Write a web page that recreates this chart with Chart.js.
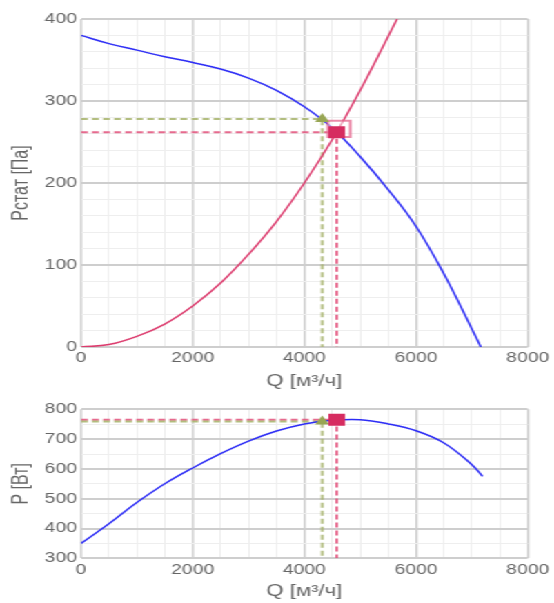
<!DOCTYPE html>
<html>
<head>
<meta charset="utf-8">
<title>Fan curve</title>
<script src="https://cdn.jsdelivr.net/npm/chart.js@4"></script>
<style>
  body { margin: 0; background: #fff; }
  /* chart drawn narrow and stretched sideways, like the original picture */
  #wrap { width: 401px; transform: scaleX(1.38); transform-origin: 0 0; }
  canvas { display: block; }
</style>
</head>
<body>
<div id="wrap">
  <canvas id="pressure-chart" width="401" height="396"></canvas>
  <canvas id="power-chart" width="401" height="207"></canvas>
</div>
<script>
    // Fan static pressure curve, Q [m3/h] -> Pa
    const fanQ = [0, 500, 1000, 1500, 2000, 2500, 3000, 3500, 4000, 4500, 5000, 5500, 6000, 6500, 7000, 7160];
    const fanPressure = [380, 370, 362, 354, 347, 339, 328, 313, 293, 267, 232, 192, 147, 89, 22, 0];

    // Network (system) curve
    const netQ = [0, 500, 1000, 1500, 2000, 2500, 3000, 3500, 4000, 4500, 5000, 5660];
    const netPressure = [0, 3, 13, 28, 50, 78, 113, 153, 200, 253, 313, 400];

    // Fan power curve, W
    const powerQ = [0, 500, 1000, 1500, 2000, 2500, 3000, 3500, 4000, 4500, 5000, 5500, 6000, 6500, 7000, 7190];
    const fanPower = [350, 416, 487, 550, 603, 651, 693, 727, 751, 763, 765, 751, 728, 687, 614, 575];

    // Markers: [required point, working point]
    const markerQ = [4320, 4580];
    const markerPressure = [278, 262];
    const markerPower = [759, 765];
    const highlight = [4620, 266];

    // Tick labels
    const qTicks = [0, 2000, 4000, 6000, 8000];
    const pressureTicks = [0, 100, 200, 300, 400];
    const powerTicks = [300, 400, 500, 600, 700, 800];

    const BLUE = "rgb(45, 45, 245)";
    const PINK = "rgb(220, 60, 110)";
    const SQUARE = "rgb(214, 44, 96)";
    const OLIVE = "rgb(152, 166, 84)";
    const OLIVE_DASH = "rgba(165, 178, 105, 0.85)";
    const PINK_DASH = "rgba(226, 80, 122, 0.85)";
    const MAJOR = "rgb(206, 206, 206)";
    const MINOR = "rgb(238, 238, 238)";
    const TEXT = "#666";
    const FONT = "'Liberation Sans', Arial, sans-serif";

    function toPoints(xs, ys) {
        return xs.map((x, i) => ({ x: x, y: ys[i] }));
    }

    function curve(xs, ys, color) {
        return {
            data: toPoints(xs, ys),
            borderColor: color,
            borderWidth: 1.5,
            pointRadius: 0,
            fill: false,
            tension: 0.4,
            order: 2
        };
    }

    function dashed(points, color) {
        return {
            data: points,
            borderColor: color,
            borderWidth: 2,
            borderDash: [5, 3],
            pointRadius: 0,
            fill: false,
            tension: 0,
            order: 3
        };
    }

    function marker(x, y, style, color, radius) {
        return {
            data: [{ x: x, y: y }],
            showLine: false,
            pointStyle: style,
            pointRadius: radius,
            backgroundColor: color,
            borderColor: color,
            borderWidth: 0,
            order: 0
        };
    }

    function gridFor(labels, vertical) {
        const isMajor = c => c.tick && labels.includes(c.tick.value);
        return {
            color: c => isMajor(c) ? MAJOR : MINOR,
            lineWidth: c => isMajor(c) ? (vertical ? 1.5 : 2) : 1,
            drawTicks: false
        };
    }

    function xAxis(height) {
        return {
            type: "linear",
            min: 0,
            max: 8000,
            grid: gridFor(qTicks, true),
            border: { display: false },
            ticks: {
                stepSize: 500,
                autoSkip: false,
                maxRotation: 0,
                padding: 3,
                color: TEXT,
                font: { family: FONT, size: 14 },
                callback: v => qTicks.includes(v) ? String(v) : ""
            },
            title: {
                display: true,
                text: "Q [м³/ч]",
                color: TEXT,
                font: { family: FONT, size: 16 },
                padding: { top: 0, bottom: height === 49 ? 5 : 2 }
            },
            afterFit: scale => { scale.height = height; }
        };
    }

    function yAxis(min, max, step, labels, text) {
        return {
            type: "linear",
            min: min,
            max: max,
            grid: gridFor(labels, false),
            border: { display: false },
            ticks: {
                stepSize: step,
                autoSkip: false,
                padding: 3,
                color: TEXT,
                font: { family: FONT, size: 14 },
                callback: v => labels.includes(v) ? String(v) : ""
            },
            title: {
                display: true,
                text: text,
                color: TEXT,
                font: { family: FONT, size: 16 },
                padding: { top: 6, bottom: 0 }
            },
            afterFit: scale => { scale.width = 58.7; }
        };
    }

    function baseOptions(top, xHeight, y) {
        return {
            responsive: false,
            animation: false,
            layout: { padding: { top: top, right: 17.7, bottom: 0, left: 0 } },
            plugins: { legend: { display: false }, tooltip: { enabled: false } },
            scales: { x: xAxis(xHeight), y: y }
        };
    }

    // Pressure chart
    new Chart(document.getElementById("pressure-chart"), {
        type: "line",
        data: {
            datasets: [
                marker(markerQ[1], markerPressure[1], "rect", SQUARE, 8.5),
                marker(markerQ[0], markerPressure[0], "triangle", OLIVE, 6),
                Object.assign(marker(highlight[0], highlight[1], "rect", "rgba(255,255,255,0.5)", 11.5),
                    { borderColor: "rgba(228, 100, 140, 0.75)", borderWidth: 2, order: 1 }),
                curve(fanQ, fanPressure, BLUE),
                curve(netQ, netPressure, PINK),
                dashed([{ x: 0, y: markerPressure[0] }, { x: markerQ[0], y: markerPressure[0] }, { x: markerQ[0], y: 0 }], OLIVE_DASH),
                dashed([{ x: 0, y: markerPressure[1] }, { x: markerQ[1], y: markerPressure[1] }, { x: markerQ[1], y: 0 }], PINK_DASH)
            ]
        },
        options: baseOptions(19, 49, yAxis(0, 400, 20, pressureTicks, "Pстат [Па]"))
    });

    // Power chart
    new Chart(document.getElementById("power-chart"), {
        type: "line",
        data: {
            datasets: [
                marker(markerQ[1], markerPower[1], "rect", SQUARE, 8.5),
                marker(markerQ[0], markerPower[0], "triangle", OLIVE, 6),
                curve(powerQ, fanPower, BLUE),
                dashed([{ x: 0, y: markerPower[0] }, { x: markerQ[0], y: markerPower[0] }, { x: markerQ[0], y: 300 }], OLIVE_DASH),
                dashed([{ x: 0, y: markerPower[1] }, { x: markerQ[1], y: markerPower[1] }, { x: markerQ[1], y: 300 }], PINK_DASH)
            ]
        },
        options: baseOptions(13.3, 44.7, yAxis(300, 800, 50, powerTicks, "P [Вт]"))
    });
</script>
</body>
</html>
